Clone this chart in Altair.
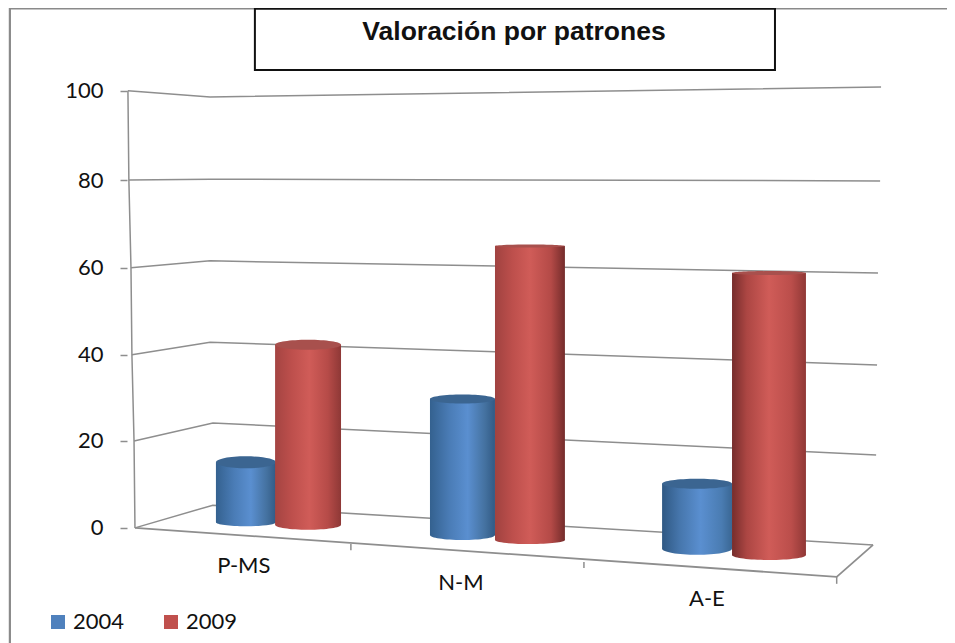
import altair as alt
import pandas as pd

# --- chart values -------------------------------------------------------
categories = ["P-MS", "N-M", "A-E"]
years = ["2004", "2009"]
values_2004 = [13.7, 31.1, 14.9]
values_2009 = [41.2, 67.3, 64.5]

# --- perspective of the 3-D box, in data units (category position, value) ---
wall_left_x = [-0.030, -0.026, -0.017, -0.013, -0.004, 0.0]   # for 100..0
levels_desc = [100, 80, 60, 40, 20, 0]
wall_left_y = [99.8, 79.4, 59.3, 39.4, 19.7, -0.2]
wall_mid_x = [0.320, 0.320, 0.320, 0.320, 0.332, 0.332]
wall_mid_y = [98.4, 79.6, 60.9, 42.3, 23.8, 5.0]
wall_right_x = [3.179, 3.175, 3.166, 3.162, 3.158, 3.145]
wall_right_y = [100.7, 79.2, 58.1, 37.1, 16.5, -4.1]

floor_x = [3.145, 2.99, 0.0]
floor_y = [-4.1, -11.4, -0.2]
tick_x = [0.92, 1.913, 2.99]
tick_y0 = [-3.9, -8.0, -11.4]
tick_y1 = [-5.3, -9.4, -13.0]

left_2004 = [0.345, 1.257, 2.246]
right_2004 = [0.601, 1.534, 2.544]
left_2009 = [0.597, 1.534, 2.544]
right_2009 = [0.878, 1.832, 2.859]
base_2004 = [1.1, -1.8, -5.0]
base_2009 = [0.5, -3.0, -6.4]
top_ry_2004 = [6, 4.5, 5]
top_ry_2009 = [5, 1.5, 2]
bot_ry_2004 = [4, 5, 6]
bot_ry_2009 = [5, 4, 5]

label_x = [0.464, 1.389, 2.437]
label_y = [-8.9, -12.8, -16.5]

X_DOMAIN = [-0.541, 3.460]
Y_DOMAIN = [-26.54, 118.76]
W, H = 939, 635
PX_PER_X = W / (X_DOMAIN[1] - X_DOMAIN[0])

x_scale = alt.Scale(domain=X_DOMAIN, zero=False, nice=False)
y_scale = alt.Scale(domain=Y_DOMAIN, zero=False, nice=False)
GRID = "#8e8e8e"
FONT = "Lato"

# The ticks sit where the perspective puts each level on the left wall edge.
y_axis = alt.Axis(
    values=wall_left_y, labelExpr="round(datum.value / 20) * 20",
    title=None, grid=False, domain=False, offset=-119,
    tickSize=7, tickColor=GRID, tickWidth=1.5, labelPadding=17,
    labelFont=FONT, labelFontSize=22, labelColor="#111111", labelFlush=False)


def X(f="x"):
    return alt.X(f"{f}:Q", scale=x_scale, axis=None)


def Y(f="y"):
    return alt.Y(f"{f}:Q", scale=y_scale, axis=y_axis, title=None)


def grad(stops):
    return alt.LinearGradient(
        gradient="linear", x1=0, x2=1, y1=0, y2=0,
        stops=[alt.GradientStop(offset=o, color=c) for o, c in stops],
    )


grad_blue = [
    [(0, "#34618f"), (0.3, "#4a7cb6"), (0.58, "#5a8fd0"), (0.85, "#44719f"), (1, "#315a85")],
    [(0, "#34618f"), (0.3, "#4a7cb6"), (0.58, "#5a8fd0"), (0.85, "#44719f"), (1, "#315a85")],
    [(0, "#2f5883"), (0.25, "#4676ac"), (0.55, "#5a8fd0"), (0.85, "#4a7cb2"), (1, "#3a6794")],
]
grad_red = [
    [(0, "#a44442"), (0.25, "#bd4f4c"), (0.52, "#d05c58"), (0.8, "#b64b48"), (1, "#8e3836")],
    [(0, "#a04240"), (0.25, "#bd4f4c"), (0.5, "#d05c58"), (0.8, "#b44a47"), (1, "#742c2b")],
    [(0, "#762d2c"), (0.2, "#ac4643"), (0.5, "#d05c58"), (0.8, "#bb4e4b"), (1, "#903836")],
]


def ellipse(k):
    return f"M-1,0A1,{k:.4f} 0 1,0 1,0A1,{k:.4f} 0 1,0 -1,0Z"


layers = []

# frame of the picture
frame = pd.DataFrame({"x": [X_DOMAIN[0] + 0.008, X_DOMAIN[0] + 0.008, X_DOMAIN[1]],
                      "y": [Y_DOMAIN[0], Y_DOMAIN[1] - 0.1, Y_DOMAIN[1] - 0.1], "i": range(3)})
layers.append(alt.Chart(frame).mark_line(color="#8a8a8a", strokeWidth=2.2)
              .encode(x=X(), y=Y(), order="i:Q"))

# grid lines on the walls
rows = []
for j, lev in enumerate(levels_desc):
    rows += [
        {"lev": lev, "i": 0, "x": wall_left_x[j], "y": wall_left_y[j]},
        {"lev": lev, "i": 1, "x": wall_mid_x[j], "y": wall_mid_y[j]},
        {"lev": lev, "i": 2, "x": wall_right_x[j], "y": wall_right_y[j]},
    ]
layers.append(alt.Chart(pd.DataFrame(rows)).mark_line(color=GRID, strokeWidth=1.5)
              .encode(x=X(), y=Y(), detail="lev:N", order="i:Q"))

# left wall edge
edge = pd.DataFrame({"x": wall_left_x, "y": wall_left_y, "i": range(6)})
layers.append(alt.Chart(edge).mark_line(color=GRID, strokeWidth=1.5)
              .encode(x=X(), y=Y(), order="i:Q"))

# front and side of the floor
floor = pd.DataFrame({"x": floor_x, "y": floor_y, "i": range(3)})
layers.append(alt.Chart(floor).mark_line(color=GRID, strokeWidth=1.8)
              .encode(x=X(), y=Y(), order="i:Q"))
ticks = pd.DataFrame({"x": tick_x, "y": tick_y0, "y2": tick_y1})
layers.append(alt.Chart(ticks).mark_rule(color=GRID, strokeWidth=1.5)
              .encode(x=X(), y=Y(), y2="y2:Q"))

# cylinders, back to front
for c in range(len(categories)):
    for vals, lefts, rights, bases, top_ry, bot_ry, g, top_col in [
        (values_2004, left_2004, right_2004, base_2004, top_ry_2004, bot_ry_2004, grad_blue[c], "#3b6591"),
        (values_2009, left_2009, right_2009, base_2009, top_ry_2009, bot_ry_2009, grad_red[c], "#a8504d"),
    ]:
        b = bases[c]
        t = b + vals[c]
        l, r = lefts[c], rights[c]
        rx = (r - l) * PX_PER_X / 2
        size = (2 * rx) ** 2
        fill = grad(g)
        one = pd.DataFrame({"x": [l], "x2": [r], "y": [b], "y2": [t], "cx": [(l + r) / 2]})
        layers.append(alt.Chart(one).mark_point(
            filled=True, fill=fill, opacity=1, strokeWidth=0, size=size,
            shape=ellipse(bot_ry[c] / rx)).encode(x=X("cx"), y=Y("y")))
        layers.append(alt.Chart(one).mark_rect(fill=fill)
                      .encode(x=X("x"), x2="x2:Q", y=Y("y"), y2="y2:Q"))
        layers.append(alt.Chart(one).mark_point(
            filled=True, fill=top_col, opacity=1, strokeWidth=0, size=size,
            shape=ellipse(top_ry[c] / rx)).encode(x=X("cx"), y=Y("y2")))

# category labels
cats = pd.DataFrame({"c": categories, "x": label_x, "y": label_y})
layers.append(alt.Chart(cats).mark_text(font=FONT, fontSize=22, color="#111111", baseline="middle")
              .encode(x=X(), y=Y(), text="c:N"))

# title box and title
box = pd.DataFrame({"x": [0.511], "x2": [2.727], "y": [104.6], "y2": [118.6]})
layers.append(alt.Chart(box).mark_rect(fill="white", stroke="#111111", strokeWidth=2)
              .encode(x=X(), x2="x2:Q", y=Y(), y2="y2:Q"))
ttl = pd.DataFrame({"t": ["Valoración por patrones"], "x": [1.615], "y": [113.3]})
layers.append(alt.Chart(ttl).mark_text(font="Liberation Sans", fontWeight="bold", fontSize=26.5,
                                       color="#111111", baseline="middle")
              .encode(x=X(), y=Y(), text="t:N"))

# legend
leg = pd.DataFrame({"year": years, "x": [1.0, 1.0], "y": [50, 50]})
layers.append(alt.Chart(leg).mark_point(filled=True, size=1, opacity=0).encode(
    x=X(), y=Y(),
    color=alt.Color("year:N", scale=alt.Scale(domain=years, range=["#4f81bd", "#c0504d"]),
                    legend=alt.Legend(orient="none", legendX=39, legendY=603, direction="horizontal",
                                      title=None, symbolType="square", symbolSize=196,
                                      symbolOpacity=1, symbolStrokeWidth=0,
                                      labelFont=FONT, labelFontSize=22, labelColor="#111111",
                                      columnPadding=35, labelOffset=4)),
))

chart = alt.layer(*layers).resolve_scale(x="shared", y="shared").properties(
    width=W, height=H, padding=0, autosize=alt.AutoSizeParams(type="none"),
    background="white",
).configure_view(stroke=None)

chart.save("out.html", embed_options={"renderer": "svg", "actions": False})
